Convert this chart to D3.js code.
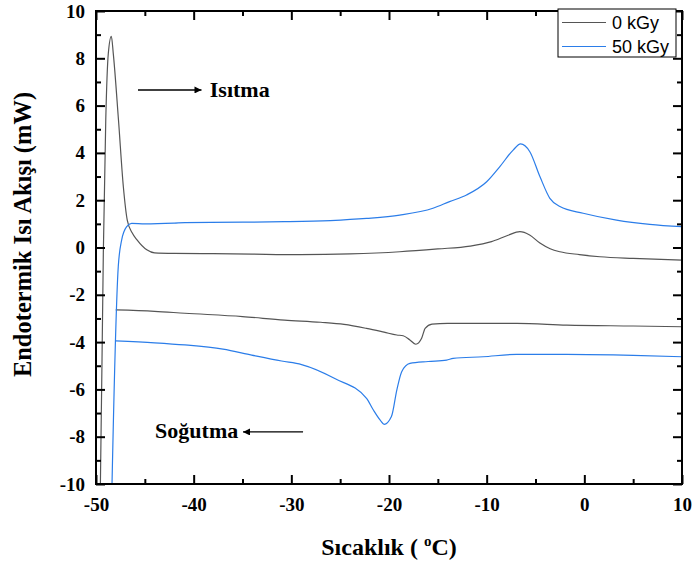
<!DOCTYPE html>
<html>
<head>
<meta charset="utf-8">
<script src="https://cdn.jsdelivr.net/npm/d3@7"></script>
<style>
  body { margin: 0; background: #fff; }
  svg { display: block; }
</style>
</head>
<body>
<div id="chart"></div>
<script>
// heating / cooling DSC runs, [temperature °C, heat flow mW]
const heating0kGy = [
  [-49.8, -13], [-49.55, -10], [-49.25, -0.25], [-49.0, 5.4], [-48.74, 8.2], [-48.43, 8.93],
  [-48.23, 8.2], [-47.7, 5.4], [-47.2, 2.57], [-46.8, 1.16], [-46.3, 0.62], [-45.8, 0.32],
  [-44.8, -0.1], [-44.0, -0.23], [-42, -0.25], [-38, -0.26], [-34, -0.28], [-29.1, -0.3],
  [-24, -0.27], [-18.9, -0.18], [-15, -0.06], [-11.7, 0.06], [-9.5, 0.25], [-7.8, 0.52],
  [-6.6, 0.67], [-5.6, 0.53], [-4.55, 0.19], [-3.5, -0.05], [-2.5, -0.18], [-0.5, -0.3],
  [1.6, -0.39], [5, -0.46], [10, -0.53]
];
const heating50kGy = [
  [-48.55, -14], [-48.36, -10], [-47.72, -0.81], [-47.37, 0.32], [-46.86, 0.88], [-46.35, 1.02],
  [-45, 1.0], [-42, 1.03], [-40.9, 1.05], [-35, 1.07], [-30.7, 1.09], [-26, 1.14], [-22.3, 1.23],
  [-18.9, 1.37], [-15.5, 1.66], [-13.8, 1.94], [-12.06, 2.22], [-10, 2.78], [-8.65, 3.42],
  [-7.29, 4.12], [-6.53, 4.38], [-5.58, 4.05], [-4.55, 3.0], [-3.53, 2.08], [-2.5, 1.73],
  [-0.12, 1.45], [3.3, 1.16], [6.7, 0.98], [10, 0.88]
];
const cooling0kGy = [
  [-47.98, -2.64], [-44, -2.7], [-40.9, -2.78], [-35, -2.92], [-30.7, -3.07], [-27, -3.16],
  [-24.6, -3.25], [-22.3, -3.42], [-20.5, -3.58], [-19.2, -3.7], [-18.55, -3.73], [-17.86, -3.91],
  [-17.25, -4.09], [-16.66, -3.84], [-16.3, -3.42], [-15.6, -3.24], [-14, -3.21], [-12.06, -3.21],
  [-6.9, -3.21], [-1.8, -3.28], [5.0, -3.32], [10, -3.35]
];
const cooling50kGy = [
  [-47.98, -3.95], [-44, -4.03], [-40.9, -4.12], [-37, -4.3], [-34.06, -4.55], [-31, -4.8],
  [-28.95, -4.95], [-25.5, -5.55], [-22.3, -6.38], [-21.6, -6.87], [-20.9, -7.3], [-20.5, -7.48],
  [-19.75, -7.15], [-19.2, -6.03], [-18.7, -5.25], [-17.86, -4.9], [-16, -4.82], [-14.1, -4.76],
  [-13.43, -4.69], [-10.36, -4.62], [-6.94, -4.52], [-1.8, -4.52], [5.0, -4.56], [10, -4.62]
];

const seriesNames = ['0 kGy', '50 kGy'];
const seriesColors = ['#555555', '#2b7de9'];

const xTicks = [-50, -40, -30, -20, -10, 0, 10];
const yTicks = [-10, -8, -6, -4, -2, 0, 2, 4, 6, 8, 10];

const xTitle = 'Sıcaklık ( ';
const yTitle = 'Endotermik Isı Akışı (mW)';

// annotations in data units: label, text pos, arrow from -> to
const notes = [
  { text: 'Isıtma', tx: -38.35, ty: 6.38, from: -45.7, to: -39.2, ay: 6.66 },
  { text: 'Soğutma', tx: -43.95, ty: -8.05, from: -28.8, to: -34.95, ay: -7.8 }
];

const width = 692, height = 565;
const margin = { top: 11, right: 10, bottom: 81, left: 96 };
const serif = '"Liberation Serif", "Times New Roman", serif';
const sans = '"Liberation Sans", Arial, sans-serif';

const svg = d3.select('#chart').append('svg')
  .attr('width', width)
  .attr('height', height);

const x = d3.scaleLinear().domain([-50, 10]).range([margin.left, width - margin.right]);
const y = d3.scaleLinear().domain([-10, 10]).range([height - margin.bottom, margin.top]);

const defs = svg.append('defs');
defs.append('clipPath').attr('id', 'plotclip')
  .append('rect')
  .attr('x', x(-50)).attr('y', y(10))
  .attr('width', x(10) - x(-50)).attr('height', y(-10) - y(10));

defs.append('marker')
  .attr('id', 'arrowhead')
  .attr('viewBox', '0 0 10 10')
  .attr('refX', 10).attr('refY', 5)
  .attr('markerWidth', 13).attr('markerHeight', 7)
  .attr('markerUnits', 'userSpaceOnUse')
  .attr('orient', 'auto')
  .append('path').attr('d', 'M0,0L10,5L0,10z').attr('fill', '#000');

// curves
const line = d3.line()
  .x(d => x(d[0]))
  .y(d => y(d[1]))
  .curve(d3.curveMonotoneX);

const curves = [
  { data: heating0kGy, color: seriesColors[0] },
  { data: cooling0kGy, color: seriesColors[0] },
  { data: heating50kGy, color: seriesColors[1] },
  { data: cooling50kGy, color: seriesColors[1] }
];

svg.append('g').attr('clip-path', 'url(#plotclip)')
  .selectAll('path')
  .data(curves)
  .join('path')
  .attr('d', d => line(d.data))
  .attr('fill', 'none')
  .attr('stroke', d => d.color)
  .attr('stroke-width', 1.2);

// axes (ticks inward on all four sides)
const minorX = d3.range(-50, 10.1, 5).filter(v => !xTicks.includes(v));
const minorY = d3.range(-10, 10.1, 1).filter(v => !yTicks.includes(v));
const plain = d => String(d); // hyphen minus, like the original

function styleAxis(g) {
  g.select('.domain').remove();
  g.selectAll('.tick line').attr('stroke', '#000').attr('stroke-width', 2);
}

function tickLabels(g) {
  g.selectAll('.tick text')
    .attr('font-family', serif).attr('font-weight', 'bold')
    .attr('font-size', 19).attr('fill', '#000');
}

const xAxisG = svg.append('g')
  .attr('transform', `translate(0,${y(-10)})`)
  .call(d3.axisBottom(x).tickValues(xTicks).tickSize(-9).tickPadding(14).tickFormat(plain))
  .call(styleAxis)
  .call(tickLabels);
xAxisG.selectAll('.tick text').attr('dy', '0.71em');
svg.append('g')
  .attr('transform', `translate(0,${y(-10)})`)
  .call(d3.axisBottom(x).tickValues(minorX).tickSize(-5).tickFormat(''))
  .call(styleAxis);

svg.append('g')
  .attr('transform', `translate(0,${y(10)})`)
  .call(d3.axisTop(x).tickValues(xTicks).tickSize(-9).tickFormat(''))
  .call(styleAxis);
svg.append('g')
  .attr('transform', `translate(0,${y(10)})`)
  .call(d3.axisTop(x).tickValues(minorX).tickSize(-5).tickFormat(''))
  .call(styleAxis);

svg.append('g')
  .attr('transform', `translate(${x(-50)},0)`)
  .call(d3.axisLeft(y).tickValues(yTicks).tickSize(-9).tickPadding(11).tickFormat(plain))
  .call(styleAxis)
  .call(tickLabels);
svg.append('g')
  .attr('transform', `translate(${x(-50)},0)`)
  .call(d3.axisLeft(y).tickValues(minorY).tickSize(-5).tickFormat(''))
  .call(styleAxis);

svg.append('g')
  .attr('transform', `translate(${x(10)},0)`)
  .call(d3.axisRight(y).tickValues(yTicks).tickSize(-9).tickFormat(''))
  .call(styleAxis);
svg.append('g')
  .attr('transform', `translate(${x(10)},0)`)
  .call(d3.axisRight(y).tickValues(minorY).tickSize(-5).tickFormat(''))
  .call(styleAxis);

// frame
svg.append('rect')
  .attr('x', x(-50)).attr('y', y(10))
  .attr('width', x(10) - x(-50)).attr('height', y(-10) - y(10))
  .attr('fill', 'none').attr('stroke', '#000').attr('stroke-width', 2);

// axis titles
const xt = svg.append('text')
  .attr('x', (x(-50) + x(10)) / 2).attr('y', 555)
  .attr('text-anchor', 'middle')
  .attr('font-family', serif).attr('font-weight', 'bold').attr('font-size', 24)
  .text(xTitle);
xt.append('tspan').attr('font-size', 15).attr('dy', -9).text('o');
xt.append('tspan').attr('dy', 9).text('C)');

svg.append('text')
  .attr('transform', `translate(31,${(y(-10) + y(10)) / 2 - 13}) rotate(-90)`)
  .attr('text-anchor', 'middle')
  .attr('font-family', serif).attr('font-weight', 'bold').attr('font-size', 24.5)
  .text(yTitle);

// annotations
const ann = svg.append('g');
ann.selectAll('line')
  .data(notes)
  .join('line')
  .attr('x1', d => x(d.from)).attr('x2', d => x(d.to))
  .attr('y1', d => y(d.ay)).attr('y2', d => y(d.ay))
  .attr('stroke', '#000').attr('stroke-width', 1.3)
  .attr('marker-end', 'url(#arrowhead)');
ann.selectAll('text')
  .data(notes)
  .join('text')
  .attr('x', d => x(d.tx)).attr('y', d => y(d.ty))
  .attr('font-family', serif).attr('font-weight', 'bold').attr('font-size', 22)
  .text(d => d.text);

// legend
const legend = svg.append('g').attr('transform', 'translate(558,9)');
legend.append('rect')
  .attr('width', 118).attr('height', 48)
  .attr('fill', '#fff').attr('stroke', '#000').attr('stroke-width', 1);
const items = legend.selectAll('g.item')
  .data(seriesNames)
  .join('g')
  .attr('class', 'item')
  .attr('transform', (d, i) => `translate(0,${13.5 + i * 24})`);
items.append('line')
  .attr('x1', 4).attr('x2', 48)
  .attr('stroke', (d, i) => seriesColors[i]).attr('stroke-width', 1.2);
items.append('text')
  .attr('x', 54).attr('dy', '0.35em')
  .attr('font-family', sans).attr('font-size', 18)
  .text(d => d);
</script>
</body>
</html>
